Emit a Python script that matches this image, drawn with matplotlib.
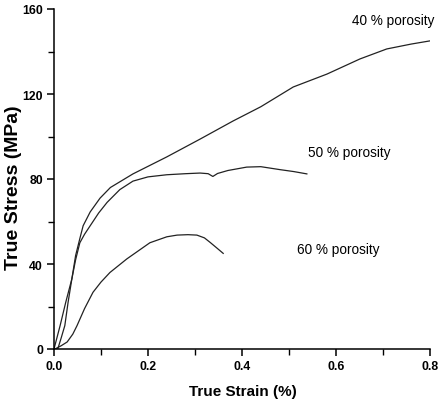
import numpy as np
from matplotlib import pyplot as plt
from matplotlib.ticker import MultipleLocator, FormatStrFormatter

# stress-strain curves (strain %, stress MPa)
strain_40 = [0.008, 0.015, 0.023, 0.030, 0.038, 0.046, 0.055, 0.062, 0.077, 0.098,
             0.12, 0.168, 0.24, 0.311, 0.381, 0.44, 0.509, 0.581, 0.651, 0.708, 0.76, 0.8]
stress_40 = [0, 5, 11, 22, 33, 44, 52, 58, 64.5, 71,
             76, 82.4, 90.4, 98.8, 107.3, 114, 123.3, 129.4, 136.5, 141.2, 143.5, 145]

strain_50 = [0, 0.013, 0.025, 0.038, 0.046, 0.055, 0.065, 0.077, 0.095, 0.113, 0.14,
             0.168, 0.2, 0.24, 0.28, 0.311, 0.328, 0.338, 0.348, 0.37, 0.41, 0.44,
             0.481, 0.51, 0.538]
stress_50 = [0, 11, 22, 33, 42, 50, 54, 58, 64, 69, 75,
             79, 81, 82, 82.5, 82.8, 82.5, 81.2, 82.6, 84, 85.6, 85.8,
             84.4, 83.5, 82.4]

strain_60 = [0.002, 0.015, 0.028, 0.04, 0.049, 0.065, 0.083, 0.1, 0.119, 0.155,
             0.204, 0.24, 0.262, 0.285, 0.304, 0.32, 0.332, 0.345, 0.36]
stress_60 = [0, 1.5, 3.3, 7, 11, 19, 26.7, 31.5, 36, 42.4,
             50, 52.8, 53.6, 53.8, 53.6, 52.3, 50.2, 47.8, 45]

labels = ["40 % porosity", "50 % porosity", "60 % porosity"]
label_x = [0.721, 0.628, 0.604]
label_y = [154.8, 92.7, 47]

plt.rcParams['font.family'] = ['Liberation Sans', 'DejaVu Sans']

fig = plt.figure(figsize=(4.4, 4.02), dpi=100)
ax = fig.add_axes([54 / 440, 1 - 350 / 402, 376 / 440, 340 / 402])

for x, y in [(strain_40, stress_40), (strain_50, stress_50), (strain_60, stress_60)]:
    ax.plot(x, y, color='#222222', lw=0.9)

for txt, lx, ly in zip(labels, label_x, label_y):
    ax.text(lx, ly, txt, fontsize=9.8, ha='center', va='center')

ax.set_xlim(0, 0.8)
ax.set_ylim(0, 160)
ax.xaxis.set_major_locator(MultipleLocator(0.2))
ax.xaxis.set_minor_locator(MultipleLocator(0.1))
ax.yaxis.set_major_locator(MultipleLocator(40))
ax.yaxis.set_minor_locator(MultipleLocator(20))
ax.xaxis.set_major_formatter(FormatStrFormatter('%.1f'))

for s in ['top', 'right']:
    ax.spines[s].set_visible(False)
for s in ['left', 'bottom']:
    ax.spines[s].set_linewidth(1.1)

ax.tick_params(which='major', direction='out', length=5, width=1.1, labelsize=8.8, pad=3)
ax.tick_params(which='minor', direction='out', length=4, width=1.0)
for lab in ax.get_xticklabels() + ax.get_yticklabels():
    lab.set_fontweight('bold')

ax.set_xlabel("True Strain (%)", fontsize=11, fontweight='bold')
ax.set_ylabel("True Stress (MPa)", fontsize=14, fontweight='bold')
ax.xaxis.set_label_coords(0.501, -0.103)
ax.yaxis.set_label_coords(-0.086, 0.476)

fig.savefig("out.png", dpi=100)
